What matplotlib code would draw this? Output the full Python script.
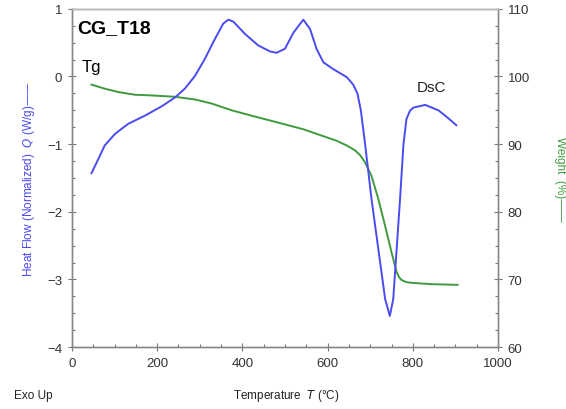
import numpy as np
import matplotlib.pyplot as plt
from matplotlib.ticker import MultipleLocator

plt.rcParams['font.family'] = ['Liberation Sans', 'DejaVu Sans']

# DSC curve (heat flow)
t_dsc = [46, 62, 77, 101, 132, 171, 211, 242, 265, 289, 312, 336, 355, 367,
         379, 406, 437, 465, 480, 500, 520, 543, 559, 574, 590, 613, 645, 660,
         670, 678, 688, 703, 719, 735, 746, 754, 762, 770, 778, 785, 793, 801,
         829, 860, 880, 902]
q_dsc = [-1.43, -1.22, -1.02, -0.85, -0.70, -0.58, -0.44, -0.31, -0.18, 0.01,
         0.26, 0.56, 0.78, 0.84, 0.81, 0.63, 0.46, 0.37, 0.35, 0.41, 0.65, 0.84,
         0.70, 0.41, 0.21, 0.11, -0.01, -0.12, -0.25, -0.50, -1.0, -1.81, -2.55,
         -3.29, -3.54, -3.29, -2.55, -1.81, -1.0, -0.63, -0.51, -0.46, -0.42,
         -0.50, -0.60, -0.72]

# TGA curve (weight)
t_tga = [46, 77, 109, 148, 187, 242, 289, 328, 375, 422, 477, 543, 621, 645,
         664, 676, 688, 703, 719, 735, 750, 762, 768, 774, 785, 797, 844, 905]
w_tga = [98.8, 98.2, 97.7, 97.3, 97.2, 97.0, 96.6, 96.0, 95.0, 94.2, 93.3,
         92.2, 90.5, 89.8, 89.1, 88.4, 87.3, 85.3, 81.9, 77.9, 74.0, 71.1,
         70.3, 69.9, 69.6, 69.5, 69.3, 69.2]

fig = plt.figure(figsize=(5.66, 4.10), dpi=100)
ax = fig.add_axes([0.127, 0.151, 0.753, 0.825])
ax2 = ax.twinx()

ax.plot(t_dsc, q_dsc, color='#4a4af0', lw=1.4, zorder=3, solid_joinstyle='round')
ax2.plot(t_tga, w_tga, color='#3f9a3f', lw=1.4, solid_joinstyle='round')
ax.set_zorder(ax2.get_zorder() + 1)
ax.patch.set_visible(False)

ax.set_xlim(0, 1000)
ax.set_ylim(-4, 1)
ax2.set_ylim(60, 110)
ax.xaxis.set_major_locator(MultipleLocator(200))
ax.xaxis.set_minor_locator(MultipleLocator(50))
ax.yaxis.set_major_locator(MultipleLocator(1))
ax.yaxis.set_minor_locator(MultipleLocator(0.25))
ax2.yaxis.set_major_locator(MultipleLocator(10))
ax2.yaxis.set_minor_locator(MultipleLocator(2.5))

for a in (ax, ax2):
    a.tick_params(which='major', direction='inout', length=6, width=0.8,
                  color='#777777', labelsize=9.5, labelcolor='#333333', pad=4)
    a.tick_params(which='minor', direction='in', length=2.5, width=0.8, color='#777777')
    for s in a.spines.values():
        s.set_color('#888888')
        s.set_linewidth(1.0)
ax.spines['top'].set_color('#bbbbbb')

ax.set_ylabel('Heat Flow (Normalized)  $Q$ (W/g)——', color='#4a4af0', fontsize=8.5, labelpad=7)
ax2.set_ylabel('Weight  (%)——', color='#3f9a3f', fontsize=8.5, rotation=270, labelpad=26)

ax.text(0.013, 0.93, 'CG_T18', transform=ax.transAxes, fontsize=14, fontweight='bold')
ax.text(0.023, 0.815, 'Tg', transform=ax.transAxes, fontsize=12)
ax.text(810, -0.15, 'DsC', fontsize=11, color='#222222', va='center')

fig.text(0.025, 0.027, 'Exo Up', fontsize=8.5, color='#222222')
fig.text(0.505, 0.027, 'Temperature  $T$ (°C)', fontsize=8.5, color='#222222', ha='center')

fig.savefig('out.png', dpi=100)
